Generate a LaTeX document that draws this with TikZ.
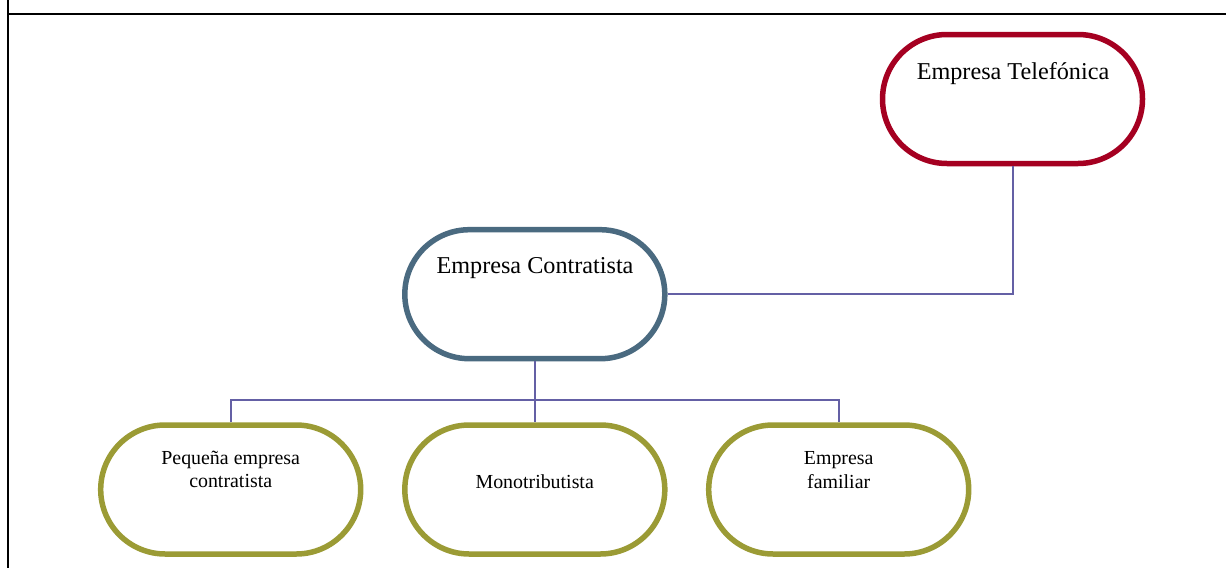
\documentclass[tikz,border=0pt]{standalone}
\usepackage{fontspec}
\setmainfont{Liberation Serif}
\usetikzlibrary{shapes.misc}
\definecolor{redc}{HTML}{A50021}
\definecolor{bluec}{HTML}{4A6A80}
\definecolor{olivec}{HTML}{9B9B35}
\definecolor{linkc}{HTML}{6460A5}
\begin{document}
\begin{tikzpicture}[x=1pt,y=-1pt,
  pill/.style={rounded rectangle, minimum width=260pt, minimum height=129pt, inner sep=0pt, line width=5.5pt, fill=white},
  bigtxt/.style={font=\fontsize{24.2}{29}\selectfont, anchor=base, inner sep=0pt},
  smalltxt/.style={font=\fontsize{19.9}{23.5}\selectfont, anchor=base, inner sep=0pt, align=center},
  link/.style={draw=linkc, line width=2pt}]
\useasboundingbox (0,0) rectangle (1226,568);
\draw[line width=2pt] (7.7,0) -- (7.7,568);
\draw[line width=2pt] (7.7,13.7) -- (1226,13.7);
% shapes
\node[pill, draw=redc] (tel) at (1012.5,99) {};
\node[pill, draw=bluec] (con) at (534.8,294.2) {};
\node[pill, draw=olivec] (peq) at (230.7,489.5) {};
\node[pill, draw=olivec] (mono) at (534.8,489.5) {};
\node[pill, draw=olivec] (fam) at (838.7,489.5) {};
% connectors
\coordinate (bus) at (534.8,400);
\draw[link] (tel.south) |- (con.east);
\draw[link] (con.south) -- (bus);
\draw[link] (peq.north) |- (bus) -| (fam.north);
\draw[link] (bus) -- (mono.north);
% texts
\node[bigtxt] (telt) at (1013,79.3) {Empresa Telefónica};
\node[bigtxt] (cont) at (535,273.3) {Empresa Contratista};
\node[smalltxt] (peqt) at (230.7,487.8) {Pequeña empresa\\contratista};
\node[smalltxt] (monot) at (534.7,488.3) {Monotributista};
\node[smalltxt] (famt) at (838.7,488.3) {Empresa\\familiar};
\end{tikzpicture}
\end{document}
